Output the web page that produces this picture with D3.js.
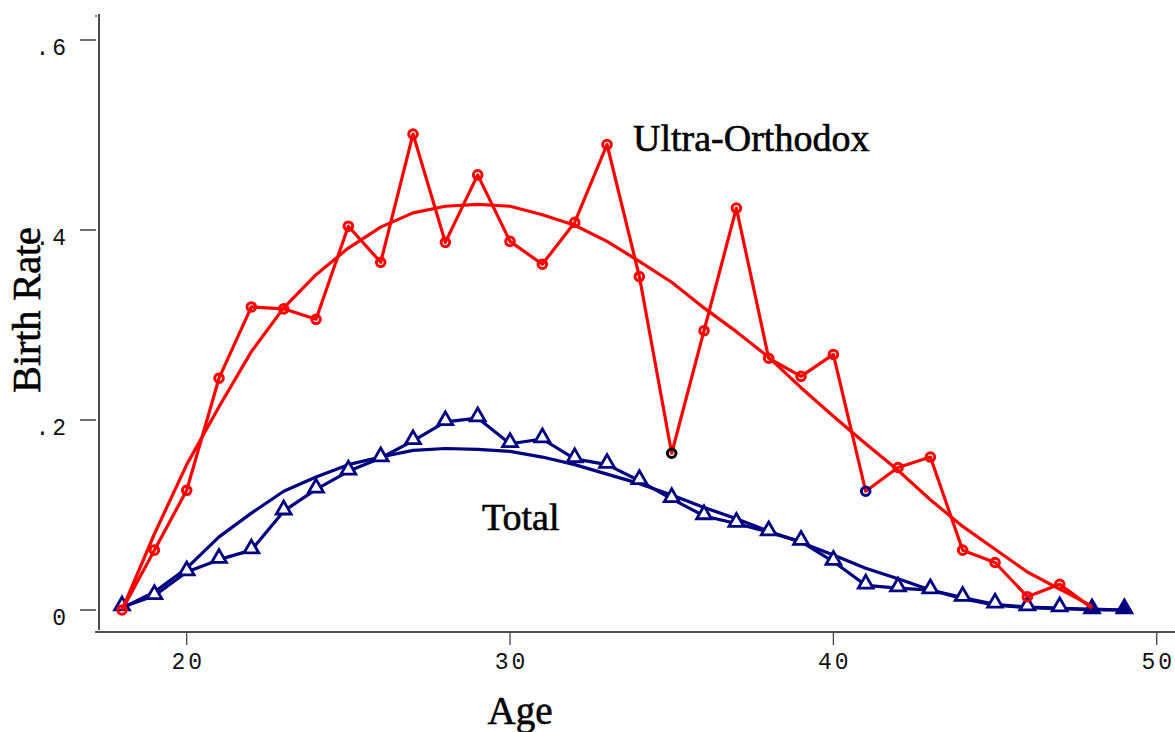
<!DOCTYPE html>
<html><head><meta charset="utf-8">
<script src="https://cdn.jsdelivr.net/npm/d3@7"></script>
<style>
html,body{margin:0;padding:0;background:#fff;}
svg{display:block;}
</style></head>
<body>
<svg id="chart" width="1175" height="732"></svg>
<script>
// ---- data ----
const ages = d3.range(18, 50); // 18..49
const uoAges = d3.range(18, 49); // 18..48
const uoObserved = [0.000,0.063,0.126,0.244,0.319,0.317,0.306,0.404,0.366,0.501,0.387,0.458,0.388,0.364,0.408,0.490,0.351,0.165,0.294,0.423,0.265,0.246,0.269,0.125,0.150,0.161,0.063,0.050,0.014,0.027,0.002];
const uoFitted   = [0.000,0.080,0.153,0.214,0.272,0.318,0.353,0.381,0.403,0.418,0.425,0.427,0.425,0.416,0.405,0.388,0.367,0.345,0.318,0.293,0.266,0.234,0.204,0.175,0.147,0.116,0.088,0.064,0.040,0.022,0.004];
const totObserved = [0.003,0.015,0.040,0.053,0.063,0.104,0.127,0.146,0.160,0.178,0.198,0.202,0.175,0.180,0.159,0.153,0.136,0.117,0.099,0.091,0.082,0.072,0.051,0.026,0.023,0.021,0.013,0.006,0.003,0.002,0.000,0.000];
const totFitted   = [0.002,0.019,0.044,0.077,0.102,0.125,0.140,0.153,0.161,0.168,0.170,0.169,0.167,0.161,0.153,0.143,0.133,0.121,0.108,0.096,0.083,0.071,0.058,0.044,0.033,0.021,0.012,0.005,0.0025,0.0015,0.001,0.000];
const uoMarkerOverride = {35: "#000000", 41: "#000080"};
const xTicks = [20, 30, 40, 50];
const yTicks = [0, 0.2, 0.4, 0.6];
const yTickLabels = ["0", ".2", ".4", ".6"];
const labels = {x: "Age", y: "Birth Rate", uo: "Ultra-Orthodox", tot: "Total"};

// ---- drawing ----
const RED = "#ff0000", NAVY = "#000080";
const svg = d3.select("#chart");
const x = d3.scaleLinear().domain([20, 50]).range([186.7, 1156.7]);
const y = d3.scaleLinear().domain([0, 0.6]).range([610, 40]);

// axes lines
svg.append("line").attr("x1", 95).attr("x2", 1175).attr("y1", 632).attr("y2", 632)
  .attr("stroke", "#111").attr("stroke-width", 1.5);
svg.append("line").attr("x1", 99).attr("x2", 99).attr("y1", 14).attr("y2", 630)
  .attr("stroke", "#111").attr("stroke-width", 1.5);
svg.append("line").attr("x1", 95).attr("x2", 97).attr("y1", 16).attr("y2", 16)
  .attr("stroke", "#111").attr("stroke-width", 1);

const monoStyle = sel => sel
  .style("font-family", "'Liberation Mono', monospace").style("font-size", "23px")
  .style("letter-spacing", "3px").attr("fill", "#111");

// x ticks
const xg = svg.append("g");
xg.selectAll("line").data(xTicks).enter().append("line")
  .attr("x1", d => x(d)).attr("x2", d => x(d)).attr("y1", 633).attr("y2", 645)
  .attr("stroke", "#444").attr("stroke-width", 1.3);
xg.selectAll("text").data(xTicks).enter().append("text")
  .attr("x", d => x(d) + 1.5).attr("y", 669)
  .attr("text-anchor", "middle")
  .call(monoStyle)
  .text(d => d);

// y ticks
const yg = svg.append("g");
yg.selectAll("line").data(yTicks).enter().append("line")
  .attr("x1", 80).attr("x2", 96).attr("y1", d => y(d)).attr("y2", d => y(d))
  .attr("stroke", "#222").attr("stroke-width", 1.3);
yg.selectAll("text").data(yTicks).enter().append("text")
  .attr("x", 69).attr("y", d => y(d) + 15)
  .attr("text-anchor", "end")
  .call(monoStyle)
  .text((d, i) => yTickLabels[i]);

const serifStyle = (sel, size) => sel
  .style("font-family", "'Liberation Serif', serif").style("font-size", size + "px")
  .attr("fill", "#000").attr("stroke", "#000").attr("stroke-width", 0.6);

// axis titles
svg.append("text").attr("x", 520).attr("y", 724).attr("text-anchor", "middle")
  .call(serifStyle, 39).text(labels.x);
svg.append("text").attr("transform", "translate(40,310) rotate(-90)").attr("text-anchor", "middle")
  .call(serifStyle, 40).text(labels.y);

const line = d3.line();

function drawSeries(agesArr, vals, color, width) {
  svg.append("path")
    .attr("d", line(agesArr.map((a, i) => [x(a), y(vals[i])])))
    .attr("fill", "none").attr("stroke", color).attr("stroke-width", width)
    .attr("stroke-linejoin", "round");
}

// Total series
drawSeries(ages, totFitted, NAVY, 3.2);
drawSeries(ages, totObserved, NAVY, 3.2);
const tri = d3.symbol().type(d3.symbolTriangle).size(95);
svg.append("g").selectAll("path").data(ages).enter().append("path")
  .attr("d", tri)
  .attr("transform", (a, i) => `translate(${x(a)},${y(totObserved[i]) - 1.5})`)
  .attr("fill", (a) => a >= 48 ? NAVY : "#fff")
  .attr("stroke", NAVY).attr("stroke-width", 2.8);

// Ultra-Orthodox series
drawSeries(uoAges, uoFitted, RED, 3.2);
drawSeries(uoAges, uoObserved, RED, 3.2);
svg.append("g").selectAll("circle").data(uoAges.slice(0, 30)).enter().append("circle")
  .attr("cx", a => x(a)).attr("cy", (a, i) => y(uoObserved[i]))
  .attr("r", 4.3).attr("fill", "none")
  .attr("stroke", a => uoMarkerOverride[a] || RED).attr("stroke-width", 3);

// series labels
svg.append("text").attr("x", 633).attr("y", 151).call(serifStyle, 38).text(labels.uo);
svg.append("text").attr("x", 482).attr("y", 530).call(serifStyle, 38).text(labels.tot);
</script>
</body></html>
